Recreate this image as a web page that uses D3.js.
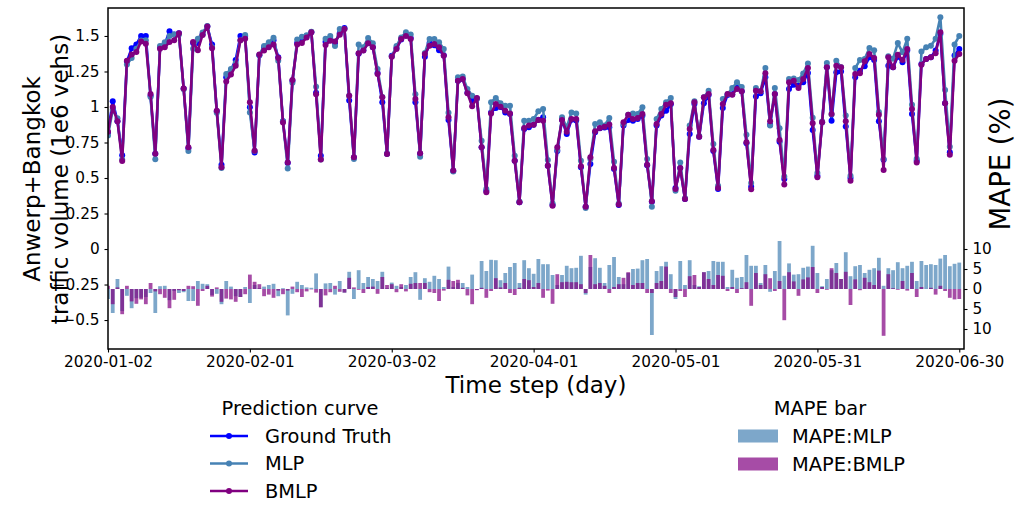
<!DOCTYPE html>
<html>
<head>
<meta charset="utf-8">
<script src="https://cdn.jsdelivr.net/npm/d3@7"></script>
<style>
  body { margin: 0; background: #fff; }
  text { font-family: "DejaVu Sans", sans-serif; }
</style>
</head>
<body>
<svg id="chart" width="1018" height="506"></svg>
<script>
// ---- data ---------------------------------------------------------------
const startDate = "2020-01-02";
const xTickLabels = ["2020-01-02", "2020-02-01", "2020-03-02", "2020-04-01", "2020-05-01", "2020-05-31", "2020-06-30"];
const yTickValues = [-0.5, -0.25, 0, 0.25, 0.5, 0.75, 1, 1.25, 1.5];
const errTickValues = [-10, -5, 0, 5, 10];

// daily traffic volume, 1e6 vehicles
const groundTruth = [
  0.82, 1.04, 0.90, 0.66, 1.32, 1.413, 1.44, 1.50, 1.50, 1.08,
  0.67, 1.42, 1.44, 1.533, 1.51, 1.52, 1.13, 0.71, 1.45, 1.45,
  1.51, 1.566, 1.44, 0.97, 0.594, 1.21, 1.26, 1.33, 1.50, 1.50,
  0.998, 0.68, 1.365, 1.42, 1.44, 1.47, 1.35, 0.90, 0.606, 1.185,
  1.45, 1.48, 1.50, 1.526, 1.10, 0.657, 1.46, 1.48, 1.45, 1.52,
  1.556, 1.045, 0.645, 1.375, 1.40, 1.45, 1.42, 1.24, 1.033, 0.67,
  1.36, 1.415, 1.475, 1.51, 1.485, 1.033, 0.67, 1.354, 1.45, 1.435,
  1.40, 1.365, 0.908, 0.55, 1.185, 1.197, 1.10, 1.045, 1.06, 0.716,
  0.41, 0.962, 0.993, 1.0, 0.962, 0.95, 0.622, 0.329, 0.845, 0.857,
  0.875, 0.91, 0.927, 0.587, 0.31, 0.69, 0.91, 0.81, 0.91, 0.905,
  0.575, 0.298, 0.599, 0.822, 0.85, 0.855, 0.857, 0.563, 0.31, 0.869,
  0.908, 0.904, 0.915, 0.939, 0.59, 0.333, 0.869, 0.94, 0.974, 1.02,
  0.43, 0.57, 0.352, 0.81, 1.021, 0.791, 1.026, 1.085, 0.69, 0.423,
  0.993, 1.085, 1.09, 1.15, 1.11, 0.745, 0.439, 1.073, 1.096, 1.209,
  0.875, 1.092, 0.755, 0.493, 1.127, 1.157, 1.15, 1.174, 1.24, 0.838,
  0.516, 0.892, 1.279, 0.904, 1.245, 1.25, 0.862, 0.5, 1.209, 1.256,
  1.286, 1.35, 1.331, 0.899, 0.628, 1.291, 1.279, 1.354, 1.315, 1.397,
  0.95, 0.622, 1.303, 1.338, 1.35, 1.397, 1.514, 1.026, 0.681, 1.362,
  1.408
];

const mlpPred = [
  0.80, 0.98, 0.92, 0.63, 1.30, 1.345, 1.41, 1.468, 1.47, 1.07,
  0.632, 1.43, 1.455, 1.50, 1.51, 1.51, 1.125, 0.69, 1.41, 1.48,
  1.525, 1.57, 1.42, 0.96, 0.57, 1.232, 1.268, 1.31, 1.47, 1.507,
  0.962, 0.69, 1.365, 1.43, 1.455, 1.488, 1.325, 0.90, 0.567, 1.17,
  1.475, 1.495, 1.505, 1.53, 1.143, 0.63, 1.48, 1.50, 1.43, 1.55,
  1.55, 1.08, 0.634, 1.44, 1.42, 1.486, 1.448, 1.268, 1.07, 0.67,
  1.355, 1.43, 1.49, 1.526, 1.51, 1.09, 0.65, 1.38, 1.479, 1.479,
  1.455, 1.408, 0.96, 0.545, 1.21, 1.214, 1.127, 1.08, 1.058, 0.763,
  0.423, 1.033, 1.063, 1.026, 1.009, 1.009, 0.657, 0.335, 0.904, 0.904,
  0.915, 0.97, 0.986, 0.627, 0.32, 0.697, 0.927, 0.857, 0.962, 0.955,
  0.622, 0.289, 0.634, 0.88, 0.892, 0.87, 0.922, 0.615, 0.32, 0.88,
  0.946, 0.955, 0.95, 0.998, 0.634, 0.298, 0.915, 0.986, 1.033, 1.063,
  0.41, 0.61, 0.357, 0.869, 1.04, 0.795, 1.068, 1.115, 0.739, 0.445,
  1.056, 1.09, 1.134, 1.174, 1.14, 0.805, 0.465, 1.134, 1.11, 1.275,
  0.869, 1.134, 0.85, 0.51, 1.197, 1.2, 1.19, 1.236, 1.307, 0.925,
  0.535, 0.897, 1.31, 0.947, 1.325, 1.28, 0.94, 0.515, 1.275, 1.33,
  1.338, 1.415, 1.40, 0.965, 0.634, 1.357, 1.34, 1.45, 1.385, 1.48,
  1.016, 0.635, 1.39, 1.42, 1.432, 1.48, 1.632, 1.12, 0.72, 1.44,
  1.50
];

const bmlpPred = [
  0.825, 1.0, 0.90, 0.62, 1.325, 1.37, 1.387, 1.462, 1.445, 1.092,
  0.67, 1.41, 1.42, 1.457, 1.47, 1.52, 1.13, 0.716, 1.457, 1.40,
  1.507, 1.566, 1.413, 0.974, 0.575, 1.18, 1.228, 1.29, 1.47, 1.48,
  1.033, 0.692, 1.37, 1.397, 1.42, 1.44, 1.345, 0.89, 0.61, 1.19,
  1.44, 1.45, 1.49, 1.526, 1.09, 0.63, 1.437, 1.467, 1.462, 1.509,
  1.55, 1.08, 0.646, 1.378, 1.397, 1.448, 1.42, 1.232, 1.068, 0.669,
  1.354, 1.408, 1.479, 1.50, 1.479, 1.056, 0.674, 1.373, 1.432, 1.444,
  1.42, 1.36, 0.927, 0.552, 1.185, 1.197, 1.096, 1.005, 1.063, 0.716,
  0.399, 0.955, 1.021, 1.002, 0.974, 0.955, 0.622, 0.329, 0.852, 0.869,
  0.875, 0.908, 0.904, 0.587, 0.305, 0.716, 0.908, 0.825, 0.915, 0.915,
  0.582, 0.298, 0.646, 0.829, 0.852, 0.861, 0.876, 0.57, 0.314, 0.892,
  0.946, 0.915, 0.923, 0.95, 0.594, 0.336, 0.88, 0.95, 1.016, 1.026,
  0.423, 0.57, 0.352, 0.845, 1.033, 0.791, 1.068, 1.092, 0.697, 0.43,
  1.021, 1.092, 1.087, 1.127, 1.11, 0.751, 0.42, 1.115, 1.11, 1.237,
  0.899, 1.092, 0.768, 0.455, 1.174, 1.185, 1.134, 1.197, 1.275, 0.885,
  0.505, 0.892, 1.279, 0.95, 1.29, 1.28, 0.899, 0.48, 1.232, 1.237,
  1.322, 1.373, 1.345, 0.946, 0.556, 1.35, 1.279, 1.368, 1.331, 1.408,
  0.986, 0.61, 1.298, 1.338, 1.35, 1.378, 1.526, 1.026, 0.664, 1.326,
  1.373
];

// signed percentage error of each model, %
const mlpError = [
  -2.5, -6.0, 2.5, -5.5, -1.7, -4.8, -2.3, -2.2, -2.0, -1.0,
  -6.0, 0.7, 0.8, -2.8, -0.5, -1.0, -0.8, -3.0, -3.0, 2.0,
  1.3, 1.2, -1.5, -1.2, -3.8, 2.0, 0.6, -1.8, -2.0, 0.5,
  -3.5, 1.0, 0.2, 0.6, 1.0, 1.3, -1.8, 0.2, -6.6, -1.2,
  1.8, 1.0, 0.4, 0.3, 3.9, -4.5, 1.4, 1.5, -1.4, 2.0,
  -0.9, 4.3, -2.5, 4.7, 1.5, 3.0, 2.5, 2.0, 4.3, 0.2,
  1.6, 0.8, 0.5, 1.0, 3.0, 4.2, -2.7, 2.7, 1.8, 3.3,
  2.5, 0.5, 5.6, 0.5, 1.5, 1.5, 0.5, 3.6, -0.2, 7.0,
  4.5, 7.3, 7.2, 2.2, 4.0, 5.5, 6.5, 1.5, 7.2, 5.2,
  3.8, 7.5, 6.2, 6.2, 3.5, 1.0, 3.5, 5.8, 5.2, 5.3,
  8.3, -1.4, 5.5, 7.7, 5.3, 1.5, 6.0, 8.0, 3.0, 1.2,
  4.0, 5.0, 5.1, 7.2, 7.5, -11.5, 4.5, 5.7, 6.8, 3.7,
  -2.5, 7.0, 1.0, 7.2, 1.0, 0.7, 4.2, 4.5, 7.0, 6.8,
  6.8, 0.5, 4.8, 2.8, 3.0, 8.5, 5.8, 5.8, 1.5, 6.0,
  -0.7, 4.5, 12.0, 3.3, 6.4, 3.6, 3.7, 5.3, 5.6, 10.8,
  4.0, 0.7, 2.5, 4.7, 6.5, 2.5, 9.2, 3.2, 5.7, 6.0,
  4.0, 4.8, 5.2, 7.8, 0.8, 5.2, 4.7, 6.7, 5.2, 5.8,
  6.8, 2.0, 7.0, 6.0, 6.2, 6.0, 7.6, 8.5, 5.7, 6.3,
  6.6
];

const bmlpError = [
  0.8, -3.8, 0.4, -6.3, 0.8, -3.1, -3.7, -2.6, -3.8, 1.5,
  -0.6, -1.3, -2.2, -4.8, -2.7, -0.3, -0.5, 0.8, 0.7, -4.2,
  -0.5, 0.8, -1.9, 0.4, -3.2, -2.4, -2.6, -3.2, -2.0, -1.3,
  3.6, 1.8, 1.2, -1.8, -1.4, -2.2, -0.4, -1.3, -0.4, 0.6,
  -0.8, -2.0, -0.6, -0.1, -0.9, -4.6, -1.6, -0.8, 0.8, -0.7,
  -0.9, 2.8, 0.4, -0.2, -1.0, 0.5, 0.6, -1.2, 3.0, 1.0,
  1.2, -0.8, 1.2, -0.6, 1.3, 1.5, 1.5, 1.5, -0.8, -1.0,
  -3.0, -0.4, 2.3, 2.0, 2.3, 0.3, -1.6, -3.8, -0.3, 0.3,
  -2.2, -0.5, 2.7, 0.4, 1.5, -1.0, -1.5, 0.3, 2.5, 2.2,
  0.5, 1.5, -2.2, -0.4, -3.7, 3.7, 1.7, 1.8, 1.7, 1.7,
  1.2, -1.0, 8.5, 1.2, 1.5, 0.8, -1.0, 0.5, 1.2, 2.8,
  4.2, 1.0, 1.5, 1.5, -1.0, -1.0, 1.5, 2.0, 5.6, -1.0,
  -2.0, -0.5, -2.0, 3.2, 3.5, 0.5, 4.2, 2.5, 1.0, 3.5,
  3.3, -0.5, 0.5, -1.0, 0.2, 1.7, -4.2, 4.0, 1.0, 3.7,
  2.7, -0.5, 2.0, -7.8, 4.2, 1.9, -1.7, 2.4, 2.9, 5.5,
  -1.0, 0.5, -0.2, 5.2, 4.0, 2.5, 4.3, -4.0, 2.4, -0.3,
  2.8, 1.7, 1.0, 4.6, -11.7, 3.7, 0.2, -0.2, 2.0, -0.4,
  4.0, -2.0, 0.5, 0.0, 0.3, -1.4, 0.8, -0.5, -2.2, -2.6,
  -2.5
];

const curveNames = ["Ground Truth", "MLP", "BMLP"];
const barNames = ["MAPE:MLP", "MAPE:BMLP"];

// ---- layout ---------------------------------------------------------------
const frame = { left: 108, right: 964, top: 8, bottom: 349 };
const curveColors = ["#0000ff", "#4682b4", "#800080"];
const barColors = ["#4682b4", "#800080"];
const barAlpha = 0.7;
const tickFont = 15.3;
const labelFont = 23;
const rightLabelFont = 27.5;
const legendFont = 19.4;

const svg = d3.select("#chart");
const parseDay = d3.utcParse("%Y-%m-%d");
const t0 = parseDay(startDate);
const dates = groundTruth.map((_, i) => d3.utcDay.offset(t0, i));

const x = d3.scaleUtc()
  .domain([t0, d3.utcDay.offset(t0, groundTruth.length)])
  .range([frame.left, frame.right]);
const y = d3.scaleLinear().domain([-0.704, 1.697]).range([frame.bottom, frame.top]);
const yErr = d3.scaleLinear().domain([-15, 70.25]).range([frame.bottom, frame.top]);

svg.append("defs").append("clipPath").attr("id", "plotClip")
  .append("rect")
  .attr("x", frame.left).attr("y", frame.top)
  .attr("width", frame.right - frame.left).attr("height", frame.bottom - frame.top);

const plot = svg.append("g").attr("clip-path", "url(#plotClip)");

// ---- error bars (secondary axis) ----------------------------------------
const dayWidth = x(dates[1]) - x(dates[0]);
const barWidth = dayWidth * 0.8;
[mlpError, bmlpError].forEach((errs, k) => {
  plot.append("g")
    .selectAll("rect")
    .data(errs)
    .join("rect")
    .attr("x", (d, i) => x(dates[i]) - barWidth / 2)
    .attr("width", barWidth)
    .attr("y", d => yErr(Math.max(0, d)))
    .attr("height", d => Math.abs(yErr(0) - yErr(d)))
    .attr("fill", barColors[k])
    .attr("fill-opacity", barAlpha);
});

// ---- prediction curves ---------------------------------------------------
const line = d3.line().x((d, i) => x(dates[i])).y(d => y(d));
[groundTruth, mlpPred, bmlpPred].forEach((vals, k) => {
  const g = plot.append("g");
  g.append("path")
    .attr("d", line(vals))
    .attr("fill", "none")
    .attr("stroke", curveColors[k])
    .attr("stroke-width", 2.6)
    .attr("stroke-linejoin", "round");
  g.selectAll("circle")
    .data(vals)
    .join("circle")
    .attr("cx", (d, i) => x(dates[i]))
    .attr("cy", d => y(d))
    .attr("r", 3)
    .attr("fill", curveColors[k]);
});

// ---- axes -----------------------------------------------------------------
const fmtTick = v => {
  if (v === 0) return "0";
  const s = String(Math.abs(v));
  return (v < 0 ? "\u2212" : "") + s;
};

function styleAxis(g) {
  g.select(".domain").remove();
  g.selectAll(".tick line").attr("stroke", "#000").attr("stroke-width", 1.1);
  g.selectAll(".tick text")
    .attr("fill", "#000")
    .style("font-size", tickFont + "px")
    .style("font-family", "'DejaVu Sans', sans-serif");
}

svg.append("g")
  .attr("transform", `translate(${frame.left},0)`)
  .call(d3.axisLeft(y).tickValues(yTickValues).tickFormat(fmtTick).tickSize(3.5).tickPadding(4.9))
  .call(styleAxis);

svg.append("g")
  .attr("transform", `translate(${frame.right},0)`)
  .call(d3.axisRight(yErr).tickValues(errTickValues).tickFormat(v => String(Math.abs(v))).tickSize(3.5).tickPadding(4.9))
  .call(styleAxis);

svg.append("g")
  .attr("transform", `translate(0,${frame.bottom})`)
  .call(d3.axisBottom(x).tickValues(xTickLabels.map(parseDay)).tickFormat(d3.utcFormat("%Y-%m-%d")).tickSize(3.5).tickPadding(3.8))
  .call(styleAxis);

// frame
svg.append("rect")
  .attr("x", frame.left).attr("y", frame.top)
  .attr("width", frame.right - frame.left).attr("height", frame.bottom - frame.top)
  .attr("fill", "none").attr("stroke", "#000").attr("stroke-width", 1.5);

// axis titles
svg.append("text")
  .attr("x", (frame.left + frame.right) / 2).attr("y", 384.5)
  .attr("text-anchor", "middle").attr("dominant-baseline", "central")
  .style("font-size", labelFont + "px")
  .text("Time step (day)");

const yTitle = svg.append("text")
  .attr("transform", "translate(46,179) rotate(-90)")
  .attr("text-anchor", "middle")
  .style("font-size", labelFont + "px");
yTitle.append("tspan").attr("x", 0).attr("dy", "-0.25em").text("Anwerp+Bangkok");
yTitle.append("tspan").attr("x", 0).attr("dy", "1.2em").text("traffic volume (1e6 vehs)");

svg.append("text")
  .attr("transform", "translate(1000,164) rotate(-90)")
  .attr("text-anchor", "middle").attr("dominant-baseline", "central")
  .style("font-size", rightLabelFont + "px")
  .text("MAPE (%)");

// ---- legends -------------------------------------------------------------
const legLeft = svg.append("g");
legLeft.append("text")
  .attr("x", 300).attr("y", 408)
  .attr("text-anchor", "middle").attr("dominant-baseline", "central")
  .style("font-size", legendFont + "px")
  .text("Prediction curve");
curveNames.forEach((name, k) => {
  const cy = 436 + k * 27.5;
  legLeft.append("line")
    .attr("x1", 210).attr("x2", 248).attr("y1", cy).attr("y2", cy)
    .attr("stroke", curveColors[k]).attr("stroke-width", 2.6);
  legLeft.append("circle").attr("cx", 229).attr("cy", cy).attr("r", 3).attr("fill", curveColors[k]);
  legLeft.append("text")
    .attr("x", 265).attr("y", cy)
    .attr("dominant-baseline", "central")
    .style("font-size", legendFont + "px")
    .text(name);
});

const legRight = svg.append("g");
legRight.append("text")
  .attr("x", 820).attr("y", 408)
  .attr("text-anchor", "middle").attr("dominant-baseline", "central")
  .style("font-size", legendFont + "px")
  .text("MAPE bar");
barNames.forEach((name, k) => {
  const cy = 436 + k * 28;
  legRight.append("rect")
    .attr("x", 738).attr("y", cy - 6.5).attr("width", 40).attr("height", 13)
    .attr("fill", barColors[k]).attr("fill-opacity", barAlpha);
  legRight.append("text")
    .attr("x", 792).attr("y", cy)
    .attr("dominant-baseline", "central")
    .style("font-size", legendFont + "px")
    .text(name);
});
</script>
</body>
</html>
